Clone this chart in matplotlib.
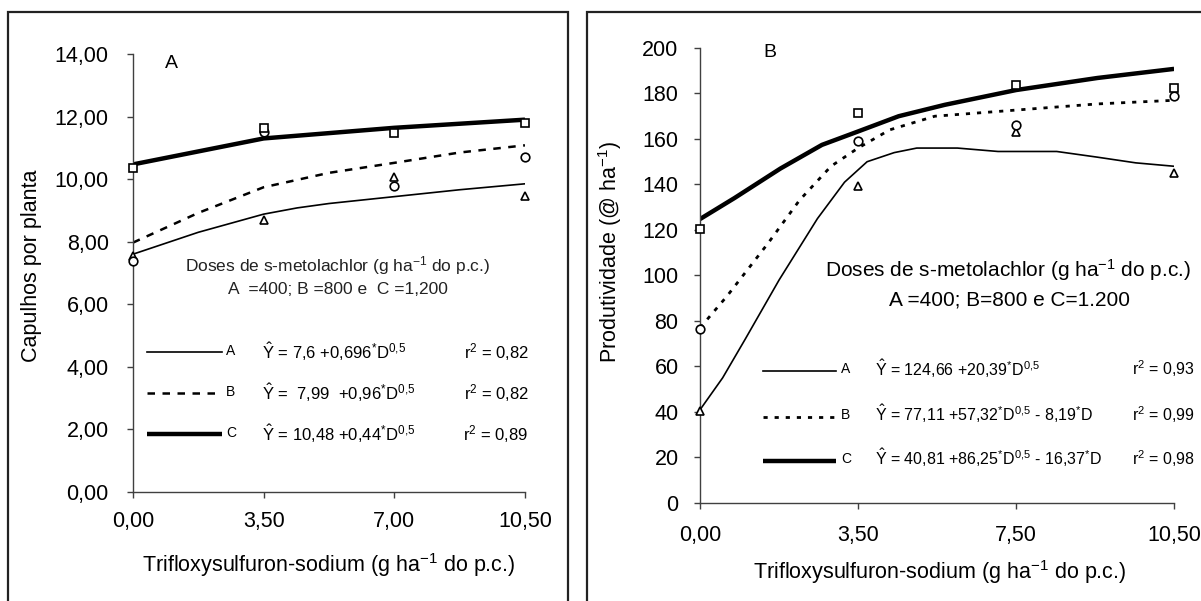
import numpy as np
import matplotlib
matplotlib.use('agg')
import matplotlib.pyplot as plt
from matplotlib.patches import Rectangle

plt.rcParams['font.family'] = ['Liberation Sans', 'DejaVu Sans']
plt.rcParams['mathtext.fontset'] = 'custom'
plt.rcParams['mathtext.rm'] = 'Liberation Sans'
plt.rcParams['mathtext.it'] = 'Liberation Sans:italic'
plt.rcParams['mathtext.bf'] = 'Liberation Sans:bold'

# ---- panel A : capulhos por planta ----
doses = [0, 3.5, 7, 10.5]
xlabels_a = ['0,00', '3,50', '7,00', '10,50']

a_obs_A = [7.55, 8.70, 10.08, 9.45]      # triangles
a_obs_B = [7.38, 11.50, 9.78, 10.72]     # circles
a_obs_C = [10.35, 11.62, 11.48, 11.80]   # squares

a_fit_A_x = [0, 1.75, 3.5, 4.4, 5.25, 7, 8.75, 10.5]
a_fit_A_y = [7.60, 8.30, 8.88, 9.08, 9.22, 9.44, 9.66, 9.85]
a_fit_B_x = [0, 1.75, 3.5, 5.25, 7, 8.75, 10.5]
a_fit_B_y = [7.97, 8.92, 9.74, 10.20, 10.52, 10.85, 11.08]
a_fit_C_x = [0, 3.5, 7, 10.5]
a_fit_C_y = [10.47, 11.30, 11.64, 11.90]

# ---- panel B : produtividade ----
xlabels_b = ['0,00', '3,50', '7,50', '10,50']

b_obs_A = [40.5, 139.5, 163.0, 145.0]
b_obs_B = [76.5, 159.0, 166.0, 179.0]
b_obs_C = [120.4, 171.4, 183.5, 182.5]

b_fit_A_x = [0, 0.5, 1.0, 1.75, 2.6, 3.2, 3.7, 4.3, 4.8, 5.7, 6.6, 7.9, 8.8, 9.65, 10.5]
b_fit_A_y = [41, 55, 72, 98, 125, 141, 150, 154, 156, 156, 154.5, 154.5, 152, 149.5, 148]
b_fit_B_x = [0, 0.6, 1.5, 2.2, 2.9, 3.5, 4.2, 5.2, 7.0, 8.8, 10.5]
b_fit_B_y = [77, 91, 114, 133, 148, 156, 164, 170, 172.7, 175.4, 177]
b_fit_C_x = [0, 0.76, 1.78, 2.7, 3.46, 4.4, 5.42, 7.0, 8.8, 10.5]
b_fit_C_y = [124.8, 134, 147, 157.4, 163, 170, 175, 181.5, 186.8, 190.8]

eq_a = [r'$\hat{\mathrm{Y}}$ = 7,6 +0,696$^{*}$D$^{0{,}5}$',
        r'$\hat{\mathrm{Y}}$ =  7,99  +0,96$^{*}$D$^{0{,}5}$',
        r'$\hat{\mathrm{Y}}$ = 10,48 +0,44$^{*}$D$^{0{,}5}$']
r2_a = ['r$^{2}$ = 0,82', 'r$^{2}$ = 0,82', 'r$^{2}$ = 0,89']
eq_b = [r'$\hat{\mathrm{Y}}$ = 124,66 +20,39$^{*}$D$^{0{,}5}$',
        r'$\hat{\mathrm{Y}}$ = 77,11 +57,32$^{*}$D$^{0{,}5}$ - 8,19$^{*}$D',
        r'$\hat{\mathrm{Y}}$ = 40,81 +86,25$^{*}$D$^{0{,}5}$ - 16,37$^{*}$D']
r2_b = ['r$^{2}$ = 0,93', 'r$^{2}$ = 0,99', 'r$^{2}$ = 0,98']

AX = '#404040'
thin = dict(color='black', lw=1.2, ls='-')
dash = dict(color='black', lw=1.8, ls=(0, (3, 3)))
dots = dict(color='black', lw=2.0, ls=(0, (1.5, 2.5)))
thick = dict(color='black', lw=3.2, ls='-', solid_capstyle='butt')
mk = dict(ls='none', mfc='white', mec='black', mew=1.2, ms=6.2, clip_on=False, zorder=5)


def style_axes(ax, ypad, xpad):
    for s in ['top', 'right']:
        ax.spines[s].set_visible(False)
    for s in ['left', 'bottom']:
        ax.spines[s].set_color(AX)
        ax.spines[s].set_linewidth(1.0)
    ax.tick_params(axis='both', direction='out', length=4.5, width=1.0, color=AX,
                   labelsize=15.5)
    ax.tick_params(axis='y', pad=ypad)
    ax.tick_params(axis='x', pad=xpad)


fig = plt.figure(figsize=(12.01, 6.01), dpi=100)

# panel frames
fig.patches.append(Rectangle((8 / 1201, -0.05), 560 / 1201, 1.05 - 12 / 601,
                             transform=fig.transFigure, fill=False, lw=1.6,
                             ec='#222222'))
fig.patches.append(Rectangle((587 / 1201, -0.05), 0.6, 1.05 - 12 / 601,
                             transform=fig.transFigure, fill=False, lw=1.6,
                             ec='#222222'))

# ---------------- left panel ----------------
ax1 = fig.add_axes([0.1107, 0.1814, 0.3264, 0.7288])
ax1.plot(a_fit_A_x, a_fit_A_y, **thin)
ax1.plot(a_fit_B_x, a_fit_B_y, **dash)
ax1.plot(a_fit_C_x, a_fit_C_y, **thick)
ax1.plot(doses, a_obs_A, marker='^', **mk)
ax1.plot(doses, a_obs_B, marker='o', **mk)
ax1.plot(doses, a_obs_C, marker='s', **mk)
ax1.set_xlim(0, 10.5)
ax1.set_ylim(0, 14)
ax1.set_xticks(doses)
ax1.set_xticklabels(xlabels_a)
yt_a = np.arange(0, 15, 2)
ax1.set_yticks(yt_a)
ax1.set_yticklabels([('%.2f' % v).replace('.', ',') for v in yt_a])
style_axes(ax1, 13, 9)

ax1.text(0.85, 13.7, 'A', fontsize=14, va='center')
ax1.text(0.523, 0.518, 'Doses de s-metolachlor (g ha$^{-1}$ do p.c.)', transform=ax1.transAxes,
         ha='center', va='center', fontsize=12.5, color='#222222')
ax1.text(0.523, 0.463, 'A  =400; B =800 e  C =1,200', transform=ax1.transAxes,
         ha='center', va='center', fontsize=12.5, color='#222222')
leg_y_a = [4.47, 3.16, 1.85]
styles_a = [thin, dash, thick]
for i, lab in enumerate(['A', 'B', 'C']):
    ax1.plot([0.375, 2.39], [leg_y_a[i], leg_y_a[i]], clip_on=False, **styles_a[i])
    ax1.text(2.5, leg_y_a[i] + 0.05, lab, fontsize=10, va='center')
    ax1.text(3.46, leg_y_a[i], eq_a[i], fontsize=12, va='center')
    ax1.text(10.6, leg_y_a[i], r2_a[i], fontsize=12, va='center', ha='right')

ax1.text(-0.26, 0.516, 'Capulhos por planta', transform=ax1.transAxes, rotation=90,
         ha='center', va='center', fontsize=15.5)
ax1.text(0.5, -0.167, 'Trifloxysulfuron-sodium (g ha$^{-1}$ do p.c.)', transform=ax1.transAxes,
         ha='center', va='center', fontsize=15.5)

# ---------------- right panel ----------------
ax2 = fig.add_axes([0.5829, 0.1631, 0.3947, 0.7571])
ax2.plot(b_fit_A_x, b_fit_A_y, **thin)
ax2.plot(b_fit_B_x, b_fit_B_y, **dots)
ax2.plot(b_fit_C_x, b_fit_C_y, **thick)
ax2.plot(doses, b_obs_A, marker='^', **mk)
ax2.plot(doses, b_obs_B, marker='o', **mk)
ax2.plot(doses, b_obs_C, marker='s', **mk)
ax2.set_xlim(0, 10.5)
ax2.set_ylim(0, 200)
ax2.set_xticks(doses)
ax2.set_xticklabels(xlabels_b)
ax2.set_yticks(np.arange(0, 201, 20))
style_axes(ax2, 11, 11)

ax2.text(1.4, 198, 'B', fontsize=14, va='center')
ax2.text(6.83, 102.4, 'Doses de s-metolachlor (g ha$^{-1}$ do p.c.)', ha='center', va='center',
         fontsize=15)
ax2.text(6.85, 89.2, 'A =400; B=800 e C=1.200', ha='center', va='center', fontsize=15)
leg_y_b = [58.0, 37.8, 18.5]
styles_b = [thin, dots, thick]
for i, lab in enumerate(['A', 'B', 'C']):
    ax2.plot([1.4, 3.0], [leg_y_b[i], leg_y_b[i]], **styles_b[i])
    ax2.text(3.12, leg_y_b[i] + 0.8, lab, fontsize=10, va='center')
    ax2.text(3.88, leg_y_b[i] + 1.2, eq_b[i], fontsize=11.5, va='center')
    ax2.text(9.57, leg_y_b[i] + 1.2, r2_b[i], fontsize=11.5, va='center', clip_on=False)

ax2.text(-0.19, 0.552, 'Produtividade (@ ha$^{-1}$)', transform=ax2.transAxes, rotation=90,
         ha='center', va='center', fontsize=15.5)
ax2.text(0.506, -0.152, 'Trifloxysulfuron-sodium (g ha$^{-1}$ do p.c.)', transform=ax2.transAxes,
         ha='center', va='center', fontsize=15.5)

plt.savefig('out.png', dpi=100)
